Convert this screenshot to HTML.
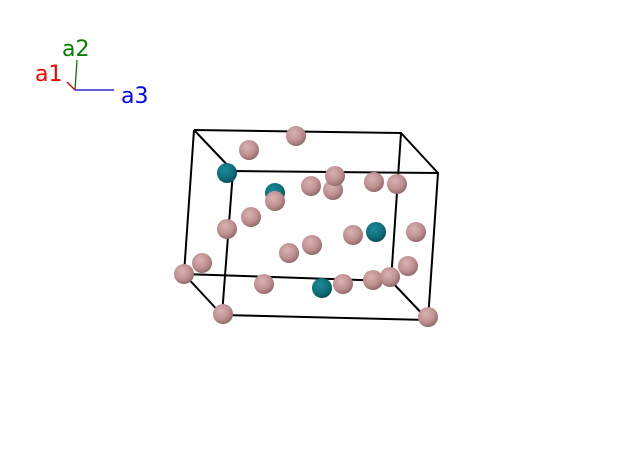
<!DOCTYPE html>
<html><head><meta charset="utf-8"><style>html,body{margin:0;padding:0;background:#fff;width:620px;height:453px;overflow:hidden}</style></head><body>
<svg width="620" height="453" viewBox="0 0 620 453" xmlns="http://www.w3.org/2000/svg" font-family="DejaVu Sans, Liberation Sans, sans-serif">
<defs>
<radialGradient id="p" cx="0.4" cy="0.35" r="0.7"><stop offset="0" stop-color="#d9b3b3"/><stop offset="0.6" stop-color="#bf8f8f"/><stop offset="1" stop-color="#8a6464"/></radialGradient>
<radialGradient id="t" cx="0.4" cy="0.35" r="0.7"><stop offset="0" stop-color="#1a8a99"/><stop offset="0.6" stop-color="#0f6f7c"/><stop offset="1" stop-color="#084a53"/></radialGradient>
</defs>
<g stroke-width="1.3">
<line x1="75" y1="90" x2="77" y2="60" stroke="#007700"/>
<line x1="75" y1="90" x2="114" y2="90" stroke="#0000cc"/>
<line x1="75" y1="90" x2="67" y2="82" stroke="#cc0000"/>
</g>
<text x="62" y="56" font-size="22" fill="#008000">a2</text>
<text x="35" y="81" font-size="22" fill="#ff0000">a1</text>
<text x="121" y="103" font-size="22" fill="#0000ff">a3</text>
<g stroke="#000" stroke-width="2" fill="none">
<polyline points="194,130 401,133 391,281 184,274 194,130"/>
<polyline points="233,171 438,173 428,320 222,315 233,171"/>
<line x1="194" y1="130" x2="233" y2="171"/>
<line x1="401" y1="133" x2="438" y2="173"/>
<line x1="184" y1="274" x2="222" y2="315"/>
<line x1="391" y1="281" x2="428" y2="320"/>
</g>
<g>
<circle cx="296" cy="136" r="10" fill="url(#p)"/>
<circle cx="249" cy="150" r="10" fill="url(#p)"/>
<circle cx="227" cy="173" r="10" fill="url(#t)"/>
<circle cx="275" cy="193" r="10" fill="url(#t)"/>
<circle cx="333" cy="190" r="10" fill="url(#p)"/>
<circle cx="311" cy="186" r="10" fill="url(#p)"/>
<circle cx="335" cy="176" r="10" fill="url(#p)"/>
<circle cx="374" cy="182" r="10" fill="url(#p)"/>
<circle cx="397" cy="184" r="10" fill="url(#p)"/>
<circle cx="275" cy="201" r="10" fill="url(#p)"/>
<circle cx="251" cy="217" r="10" fill="url(#p)"/>
<circle cx="227" cy="229" r="10" fill="url(#p)"/>
<circle cx="312" cy="245" r="10" fill="url(#p)"/>
<circle cx="289" cy="253" r="10" fill="url(#p)"/>
<circle cx="353" cy="235" r="10" fill="url(#p)"/>
<circle cx="376" cy="232" r="10" fill="url(#t)"/>
<circle cx="416" cy="232" r="10" fill="url(#p)"/>
<circle cx="408" cy="266" r="10" fill="url(#p)"/>
<circle cx="373" cy="280" r="10" fill="url(#p)"/>
<circle cx="390" cy="277" r="10" fill="url(#p)"/>
<circle cx="343" cy="284" r="10" fill="url(#p)"/>
<circle cx="322" cy="288" r="10" fill="url(#t)"/>
<circle cx="264" cy="284" r="10" fill="url(#p)"/>
<circle cx="202" cy="263" r="10" fill="url(#p)"/>
<circle cx="184" cy="274" r="10" fill="url(#p)"/>
<circle cx="223" cy="314" r="10" fill="url(#p)"/>
<circle cx="428" cy="317" r="10" fill="url(#p)"/>
</g>
</svg>
</body></html>
